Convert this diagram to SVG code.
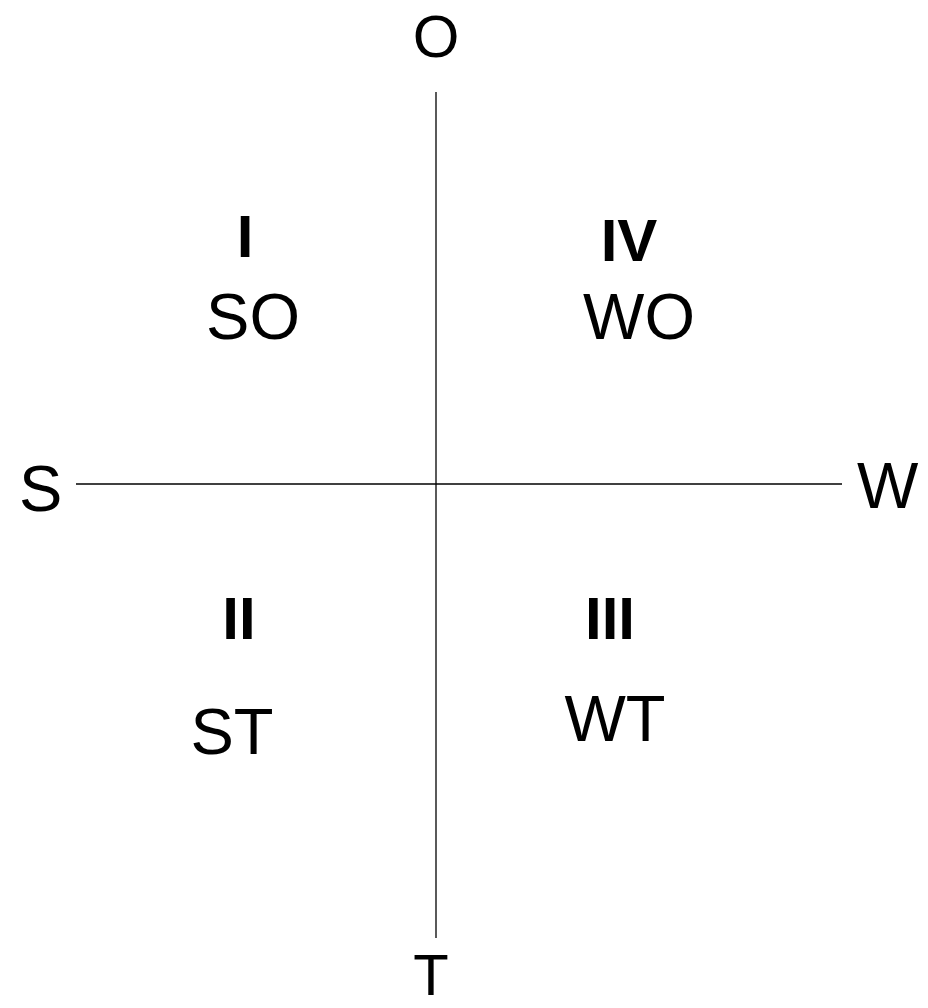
<svg xmlns="http://www.w3.org/2000/svg" width="928" height="1008" viewBox="0 0 928 1008">
<style>
.t{font-family:"Liberation Sans",Arial,sans-serif;font-size:65px;fill:#000}
.b{font-family:"Liberation Sans",Arial,sans-serif;font-size:60px;font-weight:bold;fill:#000}
.ax{stroke:#000;stroke-width:1.3;fill:none}
</style>
<rect width="928" height="1008" fill="#fff"/>
<g id="connectors">
<line class="ax" x1="436" y1="92" x2="436" y2="938"/>
<line class="ax" x1="76" y1="484" x2="842" y2="484"/>
</g>
<g id="axis-O"><text class="t" x="436" y="57" text-anchor="middle" style="font-size:60px">O</text></g>
<g id="axis-S"><text class="t" x="19" y="511">S</text></g>
<g id="axis-W"><text class="t" x="857" y="508">W</text></g>
<g id="axis-T"><text class="t" x="431" y="995" text-anchor="middle" style="font-size:58px">T</text></g>
<g id="q1"><text class="b" x="245" y="257" text-anchor="middle">I</text><text class="t" x="253" y="339" text-anchor="middle">SO</text></g>
<g id="q4"><text class="b" x="629" y="261" text-anchor="middle">IV</text><text class="t" x="639" y="339" text-anchor="middle">WO</text></g>
<g id="q2"><text class="b" x="239" y="639" text-anchor="middle">II</text><text class="t" x="232" y="754" text-anchor="middle">ST</text></g>
<g id="q3"><text class="b" x="610" y="639" text-anchor="middle">III</text><text class="t" x="615" y="741" text-anchor="middle">WT</text></g>
</svg>
